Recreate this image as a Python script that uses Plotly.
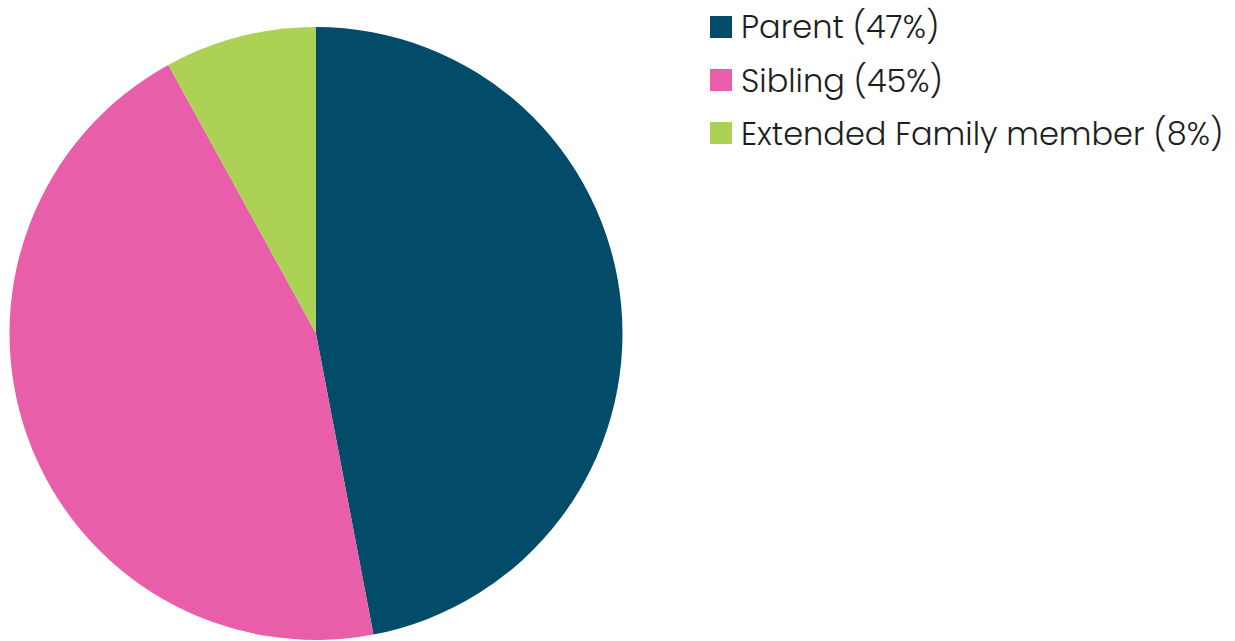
import plotly.graph_objects as go

# Relationship share of respondents
categories = ["Parent", "Sibling", "Extended Family member"]
shares = [47, 45, 8]
colors = ["#024b69", "#e95ea8", "#add155"]

W, H = 1235, 641

fig = go.Figure(
    go.Pie(
        labels=categories,
        values=shares,
        marker=dict(colors=colors, line=dict(width=0)),
        sort=False,
        direction="clockwise",
        rotation=0,
        textinfo="none",
        hoverinfo="label+percent",
        showlegend=False,
        domain=dict(x=[9 / W, 623 / W], y=[1 - 640 / H, 1 - 27 / H]),
    )
)

# Legend drawn as swatches plus labels
row_y = [27, 80, 133]
shapes, annotations = [], []
for cat, val, col, yc in zip(categories, shares, colors, row_y):
    shapes.append(dict(
        type="rect", xref="paper", yref="paper",
        x0=710 / W, x1=732 / W,
        y0=1 - (yc + 11) / H, y1=1 - (yc - 11) / H,
        fillcolor=col, line=dict(width=0),
    ))
    annotations.append(dict(
        xref="paper", yref="paper", x=739 / W, y=1 - yc / H,
        xanchor="left", yanchor="middle", showarrow=False,
        text=f"{cat} ({val}%)",
        font=dict(family="Poppins, Open Sans, sans-serif", size=32,
                  weight=300, color="#1e1e1e"),
    ))

fig.update_layout(
    width=W, height=H,
    margin=dict(l=0, r=0, t=0, b=0),
    paper_bgcolor="white", plot_bgcolor="white",
    shapes=shapes, annotations=annotations,
)

fig.write_html("out.html")
